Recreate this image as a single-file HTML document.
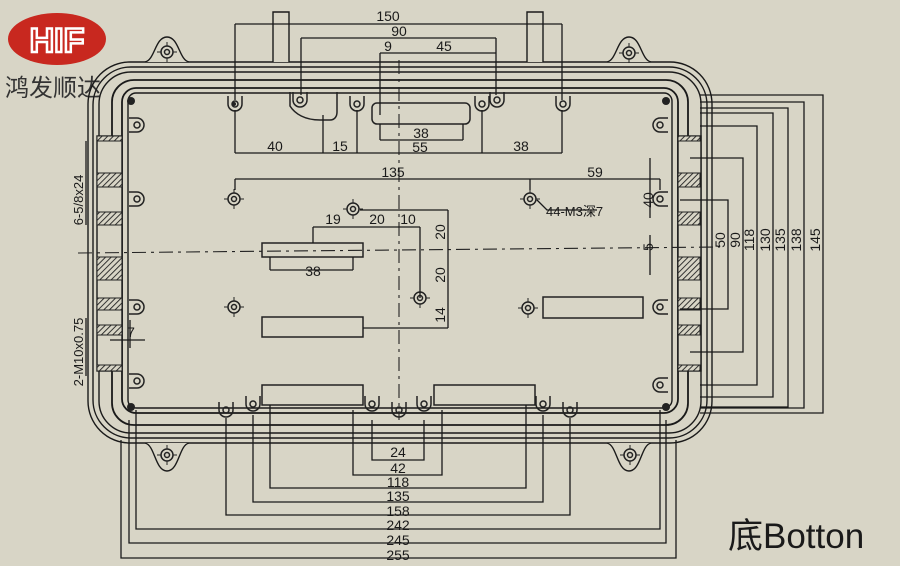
<!DOCTYPE html>
<html><head><meta charset="utf-8"><style>
html,body{margin:0;padding:0;background:#d8d5c6;}
svg{display:block}
text{font-family:"Liberation Sans","Noto Sans CJK SC",sans-serif;fill:#1a1a1a}
</style></head><body>
<svg width="900" height="566" viewBox="0 0 900 566" xmlns="http://www.w3.org/2000/svg">
<defs>
<pattern id="h" width="4" height="4" patternUnits="userSpaceOnUse" patternTransform="rotate(45)"><rect width="4" height="4" fill="#d8d5c6"/><line x1="0" y1="0" x2="0" y2="4" stroke="#222" stroke-width="1.8"/></pattern>
<g id="hole"><circle r="6" fill="none" stroke="#222" stroke-width="1.5"/><circle r="2.5" fill="none" stroke="#222" stroke-width="1.5"/><path d="M-10 0h4M6 0h4M0 -10v4M0 6v4" stroke="#222"/></g>
<g id="tab"><path d="M-7 -8v8a7 7 0 0 0 14 0v-8" fill="none" stroke="#222" stroke-width="1.5"/><circle r="3" fill="none" stroke="#222" stroke-width="1.5"/></g>
</defs>
<rect width="900" height="566" fill="#d8d5c6"/>
<ellipse cx="57" cy="39" rx="49" ry="26" fill="#c8281f"/>
<text x="57" y="52" font-size="34" font-weight="bold" text-anchor="middle" style="fill:none;stroke:#fff;stroke-width:2.5">HIF</text>
<text x="5" y="96" font-size="24" style="fill:#333">鸿发顺达</text>
<g fill="none" stroke="#1a1a1a" stroke-width="1.4">
<rect x="88" y="62" width="624" height="381" rx="42"/>
<rect x="93" y="67" width="614" height="371" rx="38"/>
<rect x="99" y="72" width="602" height="361" rx="32"/>
<rect x="112" y="80" width="576" height="345" rx="22" stroke-width="1.8"/>
<rect x="122" y="88" width="556" height="325" rx="14" stroke-width="1.8"/>
<rect x="128" y="93" width="544" height="315" rx="8"/>
<path d="M145 62c10-2 10-25 22-25s12 23 22 25" fill="#d8d5c6"/>
<path d="M607 62c10-2 10-25 22-25s12 23 22 25" fill="#d8d5c6"/>
<path d="M145 443c10 2 10 28 22 28s12-26 22-28" fill="#d8d5c6"/>
<path d="M607 443c10 2 10 28 22 28s12-26 22-28" fill="#d8d5c6"/>
<path d="M273 62V12h16v50M527 62V12h16v50" fill="#d8d5c6"/>
<rect x="97" y="136" width="25" height="235" fill="#d8d5c6"/>
<rect x="678" y="136" width="23" height="235" fill="#d8d5c6"/>
</g>
<g stroke="#222" stroke-width="1">
<rect x="97" y="136" width="25" height="5" fill="url(#h)"/>
<rect x="97" y="173" width="25" height="14" fill="url(#h)"/>
<rect x="97" y="212" width="25" height="13" fill="url(#h)"/>
<rect x="97" y="257" width="25" height="23" fill="url(#h)"/>
<rect x="97" y="298" width="25" height="12" fill="url(#h)"/>
<rect x="97" y="325" width="25" height="10" fill="url(#h)"/>
<rect x="97" y="365" width="25" height="6" fill="url(#h)"/>
<rect x="678" y="136" width="22" height="5" fill="url(#h)"/>
<rect x="678" y="173" width="22" height="14" fill="url(#h)"/>
<rect x="678" y="212" width="22" height="13" fill="url(#h)"/>
<rect x="678" y="257" width="22" height="23" fill="url(#h)"/>
<rect x="678" y="298" width="22" height="12" fill="url(#h)"/>
<rect x="678" y="325" width="22" height="10" fill="url(#h)"/>
<rect x="678" y="365" width="22" height="6" fill="url(#h)"/>
</g>
<g stroke="#222" stroke-width="1.1" stroke-dasharray="14 5 3 5" fill="none">
<line x1="78" y1="253" x2="720" y2="247"/>
<line x1="399" y1="60" x2="399" y2="420"/>
</g>
<g fill="none" stroke="#222" stroke-width="1.5">
<rect x="372" y="103" width="98" height="21" rx="5"/>
<rect x="262" y="243" width="101" height="14"/>
<rect x="262" y="317" width="101" height="20"/>
<rect x="543" y="297" width="100" height="21"/>
<rect x="262" y="385" width="101" height="20"/>
<rect x="434" y="385" width="101" height="20"/>
<path d="M290 92v14c5 8 15 14 30 14h10c5 0 7-4 7-8v-20"/>
</g>
<use href="#hole" x="234" y="199"/><use href="#hole" x="530" y="199"/>
<use href="#hole" x="234" y="307"/><use href="#hole" x="528" y="308"/>
<use href="#hole" x="353" y="209"/><use href="#hole" x="420" y="298"/>
<use href="#hole" x="629" y="53"/><use href="#hole" x="167" y="52"/>
<use href="#hole" x="167" y="455"/><use href="#hole" x="630" y="455"/>
<g>
<use href="#tab" x="235" y="104"/><use href="#tab" x="300" y="100"/><use href="#tab" x="357" y="104"/>
<use href="#tab" x="482" y="104"/><use href="#tab" x="497" y="100"/><use href="#tab" x="563" y="104"/>
<use href="#tab" x="226" y="410"/><use href="#tab" x="253" y="404"/><use href="#tab" x="372" y="404"/>
<use href="#tab" x="399" y="410"/><use href="#tab" x="424" y="404"/><use href="#tab" x="543" y="404"/><use href="#tab" x="570" y="410"/>
<use href="#tab" x="137" y="125" transform="rotate(-90 137 125)"/><use href="#tab" x="137" y="199" transform="rotate(-90 137 199)"/>
<use href="#tab" x="137" y="307" transform="rotate(-90 137 307)"/><use href="#tab" x="137" y="381" transform="rotate(-90 137 381)"/>
<use href="#tab" x="660" y="125" transform="rotate(90 660 125)"/><use href="#tab" x="660" y="199" transform="rotate(90 660 199)"/>
<use href="#tab" x="660" y="307" transform="rotate(90 660 307)"/><use href="#tab" x="660" y="385" transform="rotate(90 660 385)"/>
</g>
<g fill="#222"><circle cx="131" cy="101" r="4"/><circle cx="666" cy="101" r="4"/><circle cx="131" cy="407" r="4"/><circle cx="666" cy="407" r="4"/><circle cx="234" cy="104" r="2"/></g>
<g fill="none" stroke="#1a1a1a" stroke-width="1.3">
<path d="M235 24H562M235 24V100M562 24V100"/>
<path d="M301 38H496M301 38V95M496 38V95"/>
<path d="M380 53H496M380 53V115"/>
<path d="M380 140H463M380 124V140M463 124V140"/>
<path d="M235 153H562M235 110V153M323 115V153M357 110V153M482 110V153M562 110V153"/>
<path d="M235 179H660M235 179V190M530 179V190M660 179V190"/>
<path d="M313 227H420M313 227V243M420 227V298"/>
<path d="M360 210H448M448 210V328M363 328H448"/>
<path d="M270 270H353M270 257V270M353 257V270"/>
<path d="M537 200l10 10h50"/>
<path d="M650 158V218M650 235V275"/>
<path d="M680 200H728V309H680"/>
<path d="M690 158H743V352H690"/>
<path d="M700 126H757V385H700"/>
<path d="M700 113H773V397H700"/>
<path d="M700 108H788V407H700"/>
<path d="M700 102H804V408H700"/>
<path d="M700 95H823V413H700"/>
<path d="M372 420V460H424V420"/>
<path d="M353 410V475H442V410"/>
<path d="M270 405V488H526V405"/>
<path d="M253 415V502H543V415"/>
<path d="M226 418V515H570V418"/>
<path d="M136 410V529H660V410"/>
<path d="M129 420V543H666V420"/>
<path d="M121 440V558H676V440"/>
<path d="M86 141V225M86 318V376M110 340H145M130 320V348"/>
</g>
<g font-size="14">
<text x="388" y="21" text-anchor="middle">150</text>
<text x="399" y="36" text-anchor="middle">90</text>
<text x="388" y="51" text-anchor="middle">9</text>
<text x="444" y="51" text-anchor="middle">45</text>
<text x="421" y="138" text-anchor="middle">38</text>
<text x="275" y="151" text-anchor="middle">40</text>
<text x="340" y="151" text-anchor="middle">15</text>
<text x="420" y="152" text-anchor="middle">55</text>
<text x="521" y="151" text-anchor="middle">38</text>
<text x="393" y="177" text-anchor="middle">135</text>
<text x="595" y="177" text-anchor="middle">59</text>
<text x="546" y="216" font-size="13">44-M3深7</text>
<text x="333" y="224" text-anchor="middle">19</text>
<text x="377" y="224" text-anchor="middle">20</text>
<text x="408" y="224" text-anchor="middle">10</text>
<text x="313" y="276" text-anchor="middle">38</text>
<text x="131" y="337" text-anchor="middle">7</text>
<text x="398" y="457" text-anchor="middle">24</text>
<text x="398" y="473" text-anchor="middle">42</text>
<text x="398" y="487" text-anchor="middle">118</text>
<text x="398" y="501" text-anchor="middle">135</text>
<text x="398" y="516" text-anchor="middle">158</text>
<text x="398" y="530" text-anchor="middle">242</text>
<text x="398" y="545" text-anchor="middle">245</text>
<text x="398" y="560" text-anchor="middle">255</text>
<g transform="rotate(-90)">
<text x="-232" y="445" text-anchor="middle">20</text>
<text x="-275" y="445" text-anchor="middle">20</text>
<text x="-315" y="445" text-anchor="middle">14</text>
<text x="-200" y="653" text-anchor="middle">40</text>
<text x="-247" y="653" text-anchor="middle">5</text>
<text x="-240" y="725" text-anchor="middle">50</text>
<text x="-240" y="740" text-anchor="middle">90</text>
<text x="-240" y="754" text-anchor="middle">118</text>
<text x="-240" y="770" text-anchor="middle">130</text>
<text x="-240" y="785" text-anchor="middle">135</text>
<text x="-240" y="801" text-anchor="middle">138</text>
<text x="-240" y="820" text-anchor="middle">145</text>
<text x="-200" y="83" text-anchor="middle" font-size="13">6-5/8x24</text>
<text x="-352" y="83" text-anchor="middle" font-size="13">2-M10x0.75</text>
</g>
</g>
<text x="728" y="548" font-size="35">底Botton</text>
</svg>
</body></html>
